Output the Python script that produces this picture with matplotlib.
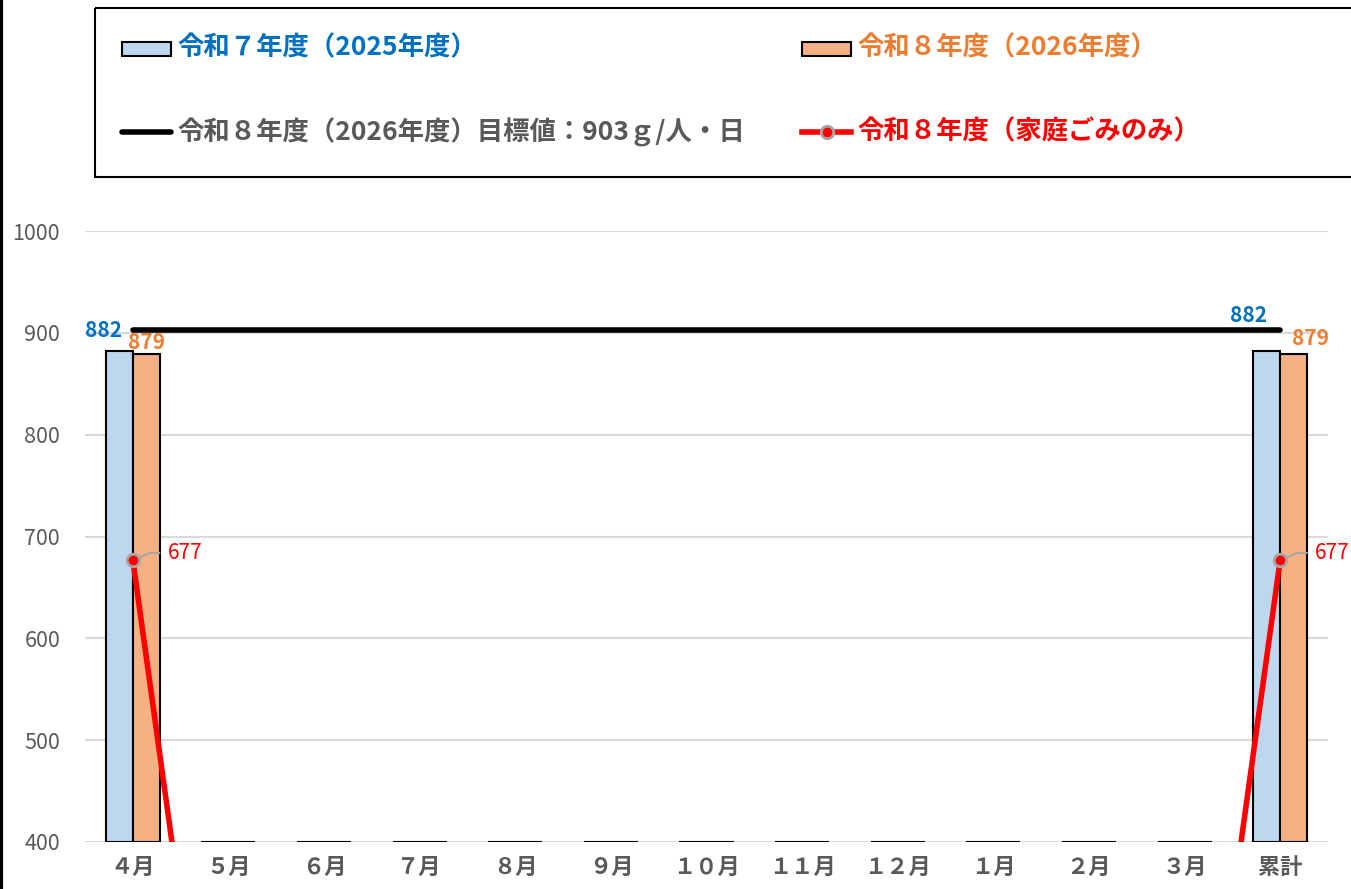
import numpy as np
import matplotlib.pyplot as plt
from matplotlib.patches import Rectangle
from matplotlib.lines import Line2D

plt.rcParams['font.family'] = ['Noto Sans CJK JP', 'DejaVu Sans']

# データ
months = ['４月', '５月', '６月', '７月', '８月', '９月', '１０月', '１１月', '１２月',
          '１月', '２月', '３月', '累計']
r7 = [882, 0, 0, 0, 0, 0, 0, 0, 0, 0, 0, 0, 882]
r8 = [879, 0, 0, 0, 0, 0, 0, 0, 0, 0, 0, 0, 879]
katei = [677, 0, 0, 0, 0, 0, 0, 0, 0, 0, 0, 0, 677]
target = [903] * 13

name_r7 = '令和７年度（2025年度）'
name_r8 = '令和８年度（2026年度）'
name_target = '令和８年度（2026年度）目標値：903ｇ/人・日'
name_katei = '令和８年度（家庭ごみのみ）'

BLUE = '#BDD7EE'
ORANGE = '#F4B183'
BLUE_T = '#0070C0'
ORANGE_T = '#ED7D31'
GRAY_T = '#595959'
ymin, ymax = 400, 1000

fig = plt.figure(figsize=(13.51, 8.89), dpi=100)
ax = fig.add_axes([85/1351, 1-842/889, (1328-85)/1351, (842-231)/889])

x = np.arange(len(months))
w = 0.283
h7 = np.maximum(np.array(r7) - ymin, 0)
h8 = np.maximum(np.array(r8) - ymin, 0)
ax.bar(x - w/2, h7, w, bottom=ymin, color=BLUE, edgecolor='black', linewidth=1.5, zorder=3)
ax.bar(x + w/2, h8, w, bottom=ymin, color=ORANGE, edgecolor='black', linewidth=1.5, zorder=3)

ax.plot(x, target, color='black', lw=4, solid_capstyle='round', zorder=4)
ax.plot(x, katei, color='red', lw=4, marker='o', markersize=9,
        markerfacecolor='red', markeredgecolor='#A6A6A6', markeredgewidth=2, zorder=5)

# データラベル
lab = dict(fontsize=15, fontweight='bold', ha='center', va='center', textcoords='offset pixels')
ax.annotate('882', (x[0] - w/2, r7[0]), xytext=(-16, 21), color=BLUE_T, **lab)
ax.annotate('879', (x[0] + w/2, r8[0]), xytext=(0, 12), color=ORANGE_T, **lab)
ax.annotate('882', (x[-1] - w/2, r7[-1]), xytext=(-18, 36), color=BLUE_T, **lab)
ax.annotate('879', (x[-1] + w/2, r8[-1]), xytext=(17, 16), color=ORANGE_T, **lab)
for i in (0, len(months) - 1):
    ax.annotate(str(katei[i]), (x[i], katei[i]), xytext=(35, 7), textcoords='offset pixels',
                color='red', fontsize=15, ha='left', va='center',
                arrowprops=dict(arrowstyle='-', color='#A6A6A6', lw=1.5, shrinkA=4, shrinkB=5,
                                relpos=(0, 0.5),
                                connectionstyle='angle,angleA=0,angleB=22,rad=0'))

ax.set_xlim(-0.5, len(months) - 0.5)
ax.set_ylim(ymin, ymax)
ax.set_yticks(range(400, 1001, 100))
ax.grid(axis='y', color='#D9D9D9', lw=1.5, zorder=0)
for s in ax.spines.values():
    s.set_visible(False)
ax.tick_params(length=0)
ax.tick_params(axis='y', labelsize=15.5, labelcolor=GRAY_T, pad=18)
ax.set_xticks(x)
ax.set_xticklabels(months, fontsize=16, fontweight='bold', color=GRAY_T)
ax.tick_params(axis='x', pad=10)

# 凡例（ピクセル座標）
lg = fig.add_axes([0, 0, 1, 1], zorder=-1)
lg.set_xlim(0, 1351)
lg.set_ylim(889, 0)
lg.axis('off')
lg.add_patch(Rectangle((95, 8), 1300, 169, fill=False, edgecolor='black', lw=1.5))
lg.plot([1, 1], [0, 889], color='black', lw=3)
lg.add_patch(Rectangle((122, 42), 49, 14, facecolor=BLUE, edgecolor='black', lw=1.5))
lg.add_patch(Rectangle((802, 42), 49, 14, facecolor=ORANGE, edgecolor='black', lw=1.5))
lg.add_line(Line2D([122, 171], [132, 132], color='black', lw=4, solid_capstyle='round'))
lg.add_line(Line2D([802, 851], [132, 132], color='red', lw=4))
lg.plot([826.5], [132], marker='o', markersize=9, markerfacecolor='red',
        markeredgecolor='#A6A6A6', markeredgewidth=2)
tkw = dict(fontsize=19, fontweight='bold', va='center', ha='left')
lg.text(177, 48, name_r7, color=BLUE_T, **tkw)
lg.text(857, 48, name_r8, color=ORANGE_T, **tkw)
lg.text(177, 132, name_target, color=GRAY_T, **tkw)
lg.text(857, 132, name_katei, color='red', **tkw)

fig.savefig('out.png', dpi=100)
